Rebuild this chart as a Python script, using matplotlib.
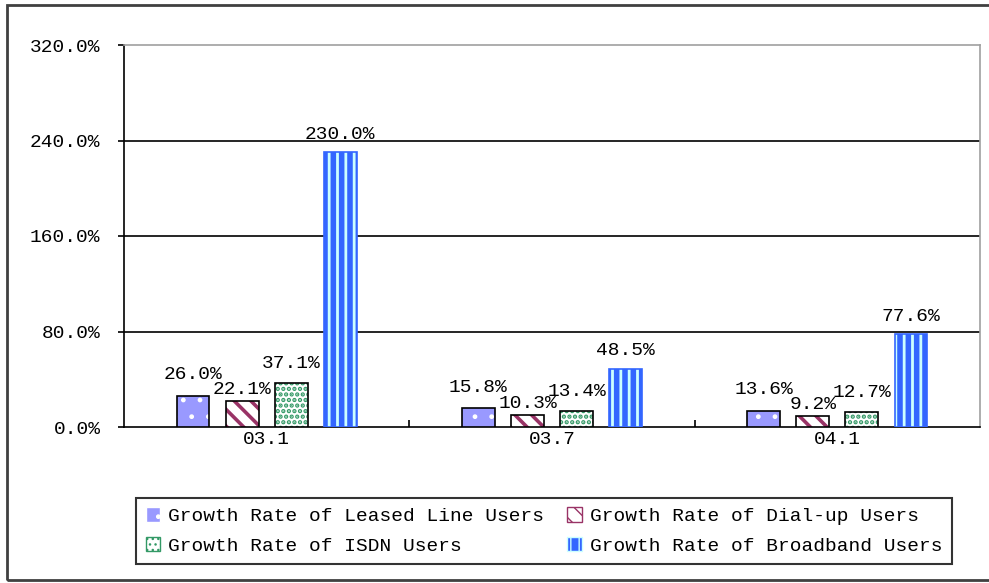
import numpy as np
import matplotlib
matplotlib.use("Agg")
import matplotlib.pyplot as plt
import matplotlib.patches as mpatches
from matplotlib.ticker import FixedLocator, FuncFormatter

# data
periods = ["03.1", "03.7", "04.1"]
series = [
    "Growth Rate of Leased Line Users",
    "Growth Rate of Dial-up Users",
    "Growth Rate of ISDN Users",
    "Growth Rate of Broadband Users",
]
leased = [26.0, 15.8, 13.6]
dialup = [22.1, 10.3, 9.2]
isdn = [37.1, 13.4, 12.7]
broadband = [230.0, 48.5, 77.6]
yticks = [0, 80, 160, 240, 320]

# styles: face colour, hatch, hatch colour, outline, hatch width, label lift (pt)
styles = [
    ("#9999FF", ".", "white", "black", 1.0, 9),
    ("white", "\\\\", "#993366", "black", 2.6, 2),
    ("white", "...", "#339966", "black", 2.2, 8),
    ("#3366FF", "||", "#CCFFFF", "#3366FF", 2.0, 7),
]

plt.rcParams["font.family"] = ["Liberation Mono", "DejaVu Sans Mono"]
plt.rcParams["font.size"] = 14

fig = plt.figure(figsize=(9.89, 5.83), dpi=100)
ax = fig.add_axes([124 / 989, 156 / 583, 856 / 989, 382 / 583])

x = np.arange(len(periods))
step = 0.172
width = 0.115
handles = []
for i, vals in enumerate([leased, dialup, isdn, broadband]):
    fc, hatch, hc, ec, hlw, lift = styles[i]
    pos = x + (i - 1.5) * step
    with plt.rc_context({"hatch.linewidth": hlw}):
        bars = ax.bar(pos, vals, width, color=fc, hatch=hatch, edgecolor=hc,
                      linewidth=0, zorder=3)
        h = mpatches.Patch(facecolor=fc, hatch=hatch, edgecolor=hc, linewidth=1)
    for b in list(bars) + [h]:
        if hasattr(b, "set_hatch_linewidth"):
            b.set_hatch_linewidth(hlw)
    ax.bar(pos, vals, width, fill=False, edgecolor=ec, linewidth=1.2, zorder=4)
    for px, v in zip(pos, vals):
        ax.annotate("%.1f%%" % v, (px, v), xytext=(0, lift), textcoords="offset points",
                    ha="center", va="bottom", fontsize=14, zorder=5)
    handles.append(h)

ax.set_xlim(-0.5, 2.5)
ax.set_ylim(0, 320)
ax.set_yticks(yticks)
ax.yaxis.set_major_formatter(FuncFormatter(lambda v, p: "%.1f%%" % v))
ax.set_xticks(x)
ax.set_xticklabels(periods)
ax.xaxis.set_minor_locator(FixedLocator([0.5, 1.5]))
ax.tick_params(axis="x", which="major", length=0, pad=3)
ax.tick_params(axis="x", which="minor", length=5, direction="in", width=1.2)
ax.tick_params(axis="y", length=4, width=1.2, pad=13)

for yv in yticks[1:-1]:
    ax.axhline(yv, color="black", linewidth=1.2, zorder=1)
ax.spines["left"].set_linewidth(1.2)
ax.spines["bottom"].set_linewidth(1.2)
ax.spines["top"].set_color("#a0a0a0")
ax.spines["right"].set_color("#a0a0a0")
ax.spines["top"].set_linewidth(1.2)
ax.spines["right"].set_linewidth(1.2)

# legend filled row by row
order = [0, 2, 1, 3]
leg = fig.legend([handles[k] for k in order], [series[k] for k in order],
                 ncol=2, loc="center", bbox_to_anchor=(544 / 989, 1 - 531 / 583),
                 frameon=True, fancybox=False, handlelength=0.75, handleheight=0.75,
                 handletextpad=0.4, columnspacing=1.2, labelspacing=0.6,
                 borderpad=0.5, fontsize=14)
leg.get_frame().set_edgecolor("black")
leg.get_frame().set_linewidth(1.5)

# outer chart border
fig.patches.append(mpatches.Rectangle((7 / 989, 3 / 583), 1.0, 575 / 583,
                                      transform=fig.transFigure, fill=False,
                                      edgecolor="#404040", linewidth=2))

fig.savefig("out.png", dpi=100)
